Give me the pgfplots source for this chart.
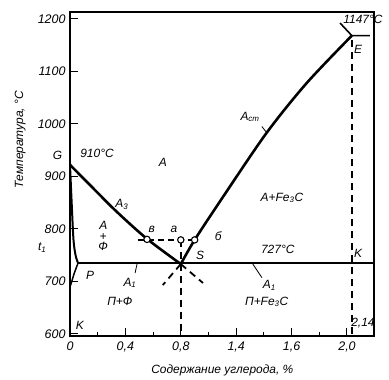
\documentclass[border=0pt]{standalone}
\usepackage{fontspec}
\setmainfont{Liberation Sans}
\usepackage{pgfplots}
\pgfplotsset{compat=1.18}
\begin{document}
\begin{tikzpicture}[font=\fontsize{12}{14}\selectfont\itshape]
\useasboundingbox (-70bp,-44bp) rectangle (319bp,336bp);
\begin{axis}[
  scale only axis, width=304bp, height=324bp,
  at={(0,0)}, anchor=south west,
  xmin=0, xmax=2.195, ymin=596, ymax=1213,
  clip=false,
  axis line style={line width=1.2pt},
  xtick={0,0.4,0.8,1.2,1.6,2.0},
  xticklabels={\textit{0},\textit{0,4},\textit{0,8},\textit{1,4},\textit{1,6},\textit{2,0}},
  ytick={600,700,...,1200},
  yticklabel={\textit{\pgfmathprintnumber[assume math mode=true,1000 sep={}]{\tick}}},
  minor x tick num=1,
  tick align=inside, xtick pos=bottom, ytick pos=left,
  major tick length=8bp, minor tick length=4bp,
  tick style={black, line width=1pt},
  every tick label/.append style={font=\fontsize{12.5}{14}\selectfont\itshape},
  xticklabel style={yshift=-2bp},
  yticklabel style={xshift=-1bp},
]
% thick left and bottom frame
\draw[line width=2.6pt] (rel axis cs:0,0) -- (rel axis cs:0,1);
\draw[line width=2.4pt] (rel axis cs:0,0) -- (rel axis cs:1,0);
% GS (A3)
\addplot[line width=2.6pt, smooth] coordinates {(0,922) (0.18,874) (0.34,832) (0.556,781) (0.8,733)};
% SE (Acm)
\addplot[line width=2.6pt, smooth] coordinates {(0.8,733) (0.90,779) (1.105,861) (1.42,983) (1.71,1078) (2.035,1168)};
% PSK
\addplot[line width=2.6pt] coordinates {(0.058,735) (2.195,735)};
% GP
\addplot[line width=2pt, smooth] coordinates {(0,922) (0.012,850) (0.025,780) (0.04,750) (0.058,735)};
% PQ
\addplot[line width=1.5pt] coordinates {(0.058,735) (0.03,715) (0.007,695) (0,690)};
% E marks
\addplot[line width=1.6pt] coordinates {(1.95,1192) (2.035,1168) (2.166,1168)};
% dashed lines
\addplot[line width=1.5pt, dash pattern=on 6pt off 4pt] coordinates {(0.49,779) (0.90,779)};
\addplot[line width=1.5pt, dash pattern=on 7pt off 5pt] coordinates {(0.8,779) (0.8,596)};
\addplot[line width=1.5pt, dash pattern=on 7pt off 5pt] coordinates {(2.035,1160) (2.035,596)};
\addplot[line width=1.8pt, dash pattern=on 7pt off 5pt] coordinates {(0.8,733) (0.96,697)};
\addplot[line width=1.8pt, dash pattern=on 7pt off 5pt] coordinates {(0.8,733) (0.67,693)};
% leaders
\addplot[line width=0.8pt] coordinates {(1.385,995) (1.415,985)};
\addplot[line width=0.8pt] coordinates {(1.32,733) (1.386,707)};
\addplot[line width=0.8pt] coordinates {(0.484,733) (0.47,716)};
% circles
\addplot[only marks, mark=*, mark size=3.2pt, mark options={fill=white, draw=black, line width=1.1pt}] coordinates {(0.556,780) (0.8,779) (0.90,779)};
% labels
\begin{scope}[every node/.style={inner sep=0.5pt}]
\node at (axis cs:-0.09,940) {G};
\node at (axis cs:0.195,943) {910°C};
\node at (axis cs:0.67,926) {A};
\node at (axis cs:0.375,846) {A\textsubscript{3}};
\node at (axis cs:0.59,800) {в};
\node at (axis cs:0.75,800) {а};
\node at (axis cs:1.07,787) {б};
\node at (axis cs:0.94,750) {S};
\node at (axis cs:1.30,1013) {A\textsubscript{cm}};
\node at (axis cs:1.53,859) {A+Fe\textsubscript{3}C};
\node at (axis cs:1.50,760) {727°C};
\node at (axis cs:2.08,754) {K};
\node at (axis cs:1.44,693) {A\textsubscript{1}};
\node at (axis cs:1.42,661) {П+Fe\textsubscript{3}C};
\node at (axis cs:2.115,621) {2,14};
\node at (axis cs:2.115,1198) {1147°C};
\node at (axis cs:2.08,1141) {E};
\node[align=center, font=\fontsize{12}{10.5}\selectfont\itshape] at (axis cs:0.24,786) {A\\+\\Ф};
\node at (axis cs:0.145,712) {P};
\node at (axis cs:0.433,697) {A\textsubscript{1}};
\node at (axis cs:0.36,661) {П+Ф};
\node at (axis cs:0.072,617) {K};
\node at (axis cs:-0.2,764) {t\textsubscript{1}};
\node[rotate=90] at (axis cs:-0.36,970) {Температура, °С};
\node at (axis cs:1.10,531) {Содержание углерода, \%};
\end{scope}
\end{axis}
\end{tikzpicture}
\end{document}
